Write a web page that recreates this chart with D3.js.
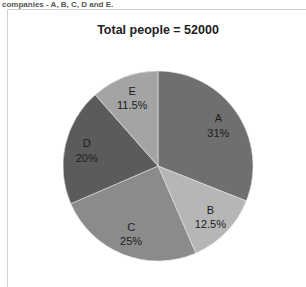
<!DOCTYPE html>
<html><head><meta charset="utf-8">
<script src="https://cdn.jsdelivr.net/npm/d3@7"></script>
<style>html,body{margin:0;padding:0;background:#fff;overflow:hidden}</style>
</head><body>
<svg id="c" width="306" height="287"></svg>
<script>
const categories = ["A", "B", "C", "D", "E"];
const values = [31, 12.5, 25, 20, 11.5];
const labels = ["31%", "12.5%", "25%", "20%", "11.5%"];
const colors = ["#6f6f6f", "#b6b6b6", "#8b8b8b", "#5b5b5b", "#a4a4a4"];
const title = "Total people = 52000";
const heading = "companies - A, B, C, D and E.";

const svg = d3.select("#c");
const cx = 158, cy = 166, R = 95;

// heading at the top edge
svg.append("text").attr("x", 2).attr("y", 7)
  .attr("font-family", "Liberation Sans, Arial, sans-serif").attr("font-size", 8).attr("font-weight", "bold")
  .attr("fill", "#555").text(heading);

// frame
svg.append("path").attr("d", "M7.5,287 V9.5 H306")
  .attr("fill", "none").attr("stroke", "#d0d0d0").attr("stroke-width", 1);

svg.append("text").attr("x", 158).attr("y", 34).attr("text-anchor", "middle")
  .attr("font-family", "Liberation Sans, Arial, sans-serif").attr("font-size", 12.5).attr("font-weight", "bold")
  .attr("fill", "#222").text(title);

const data = categories.map((c, i) => ({cat: c, v: values[i], lab: labels[i], col: colors[i]}));
const pie = d3.pie().value(d => d.v).sort(null);
const arc = d3.arc().innerRadius(0).outerRadius(R);
const lArc = d3.arc().innerRadius(73).outerRadius(73);

const g = svg.append("g").attr("transform", `translate(${cx},${cy})`);
const arcs = pie(data);
g.selectAll("path.s").data(arcs).join("path").attr("class", "s")
  .attr("d", arc).attr("fill", d => d.data.col)
  .attr("stroke", "#e8e8e8").attr("stroke-width", 0.6);

const t = g.selectAll("text.l").data(arcs).join("text").attr("class", "l")
  .attr("transform", d => `translate(${lArc.centroid(d)})`)
  .attr("text-anchor", "middle")
  .attr("font-family", "Liberation Sans, Arial, sans-serif").attr("font-size", 11)
  .attr("fill", "#1c1c1c");
t.append("tspan").attr("x", 0).attr("dy", "-0.25em").text(d => d.data.cat);
t.append("tspan").attr("x", 0).attr("dy", "1.3em").text(d => d.data.lab);
</script>
</body></html>
